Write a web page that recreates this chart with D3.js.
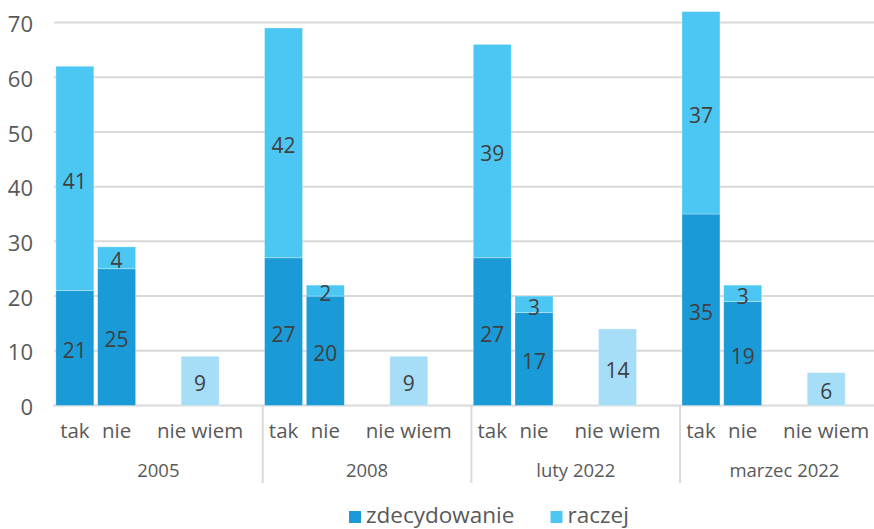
<!DOCTYPE html>
<html>

<head>
  <meta charset="utf8">
  <script src="https://d3js.org/d3.v7.min.js"></script>
  <style>
    body { margin: 0; background: #fff; }
    svg { display: block; font-family: 'Open Sans', sans-serif; }
    .grid line { stroke: #d9d9d9; stroke-width: 2; }
    .ylab { fill: #595959; font-size: 22px; }
    .xlab { fill: #595959; font-size: 20.5px; }
    .glab { fill: #595959; font-size: 18.5px; }
    .val { fill: #404040; font-size: 21px; }
    .leg { fill: #595959; font-size: 22.5px; }
  </style>
</head>

<body>
  <svg id="chart" width="874" height="529"></svg>

  <script>
    var groups = ['2005', '2008', 'luty 2022', 'marzec 2022'];
    // slots inside each group, the empty ones are just gaps
    var slots = ['tak', 'nie', 'gap1', 'nie wiem', 'gap2'];
    var slotLabels = { 'tak': 'tak', 'nie': 'nie', 'nie wiem': 'nie wiem' };

    var takZdecydowanie = [21, 27, 27, 35];
    var takRaczej = [41, 42, 39, 37];
    var nieZdecydowanie = [25, 20, 17, 19];
    var nieRaczej = [4, 2, 3, 3];
    var nieWiem = [9, 9, 14, 6];

    var yTicks = [0, 10, 20, 30, 40, 50, 60, 70];
    var legendItems = ['zdecydowanie', 'raczej'];

    var colors = { zdec: '#1a9ad6', raczej: '#4cc7f3', nieWiem: '#a6def7' };

    var chart = d3.select('#chart');
    var left = 54, groupW = 208.7;

    var x0 = d3.scaleBand()
      .domain(groups)
      .range([left, left + groupW * groups.length]);

    var x1 = d3.scaleBand()
      .domain(slots)
      .range([0, x0.bandwidth()])
      .paddingInner(0.09)
      .paddingOuter(0.045);

    var y = d3.scaleLinear()
      .domain([0, 70])
      .range([405.5, 22.5]);

    // grid
    chart.append('g')
      .attr('class', 'grid')
      .selectAll('line')
      .data(yTicks)
      .join('line')
      .attr('x1', (d) => d === 0 ? left - 1 : left)
      .attr('x2', 874)
      .attr('y1', (d) => y(d))
      .attr('y2', (d) => y(d));

    chart.append('g')
      .selectAll('text')
      .data(yTicks)
      .join('text')
      .attr('class', 'ylab')
      .attr('x', 33)
      .attr('y', (d) => y(d) + 2)
      .attr('dy', '0.35em')
      .attr('text-anchor', 'end')
      .text((d) => d);

    // build segments
    var segs = [];
    groups.forEach(function (g, i) {
      segs.push({ g: g, s: 'tak', y0: 0, y1: takZdecydowanie[i], c: colors.zdec });
      segs.push({ g: g, s: 'tak', y0: takZdecydowanie[i], y1: takZdecydowanie[i] + takRaczej[i], c: colors.raczej });
      segs.push({ g: g, s: 'nie', y0: 0, y1: nieZdecydowanie[i], c: colors.zdec });
      segs.push({ g: g, s: 'nie', y0: nieZdecydowanie[i], y1: nieZdecydowanie[i] + nieRaczej[i], c: colors.raczej });
      segs.push({ g: g, s: 'nie wiem', y0: 0, y1: nieWiem[i], c: colors.nieWiem });
    });

    chart.append('g')
      .selectAll('rect')
      .data(segs)
      .join('rect')
      .attr('x', (d) => x0(d.g) + x1(d.s))
      .attr('width', x1.bandwidth())
      .attr('y', (d) => y(d.y1))
      .attr('height', (d) => y(d.y0) - y(d.y1))
      .attr('fill', (d) => d.c)
      .attr('stroke', '#fff')
      .attr('stroke-opacity', 0.4)
      .attr('stroke-width', 0.75);

    chart.append('g')
      .selectAll('text')
      .data(segs)
      .join('text')
      .attr('class', 'val')
      .attr('x', (d) => x0(d.g) + x1(d.s) + x1.bandwidth() / 2)
      .attr('y', (d) => y((d.y0 + d.y1) / 2) + 3)
      .attr('dy', '0.35em')
      .attr('text-anchor', 'middle')
      .text((d) => d.y1 - d.y0);

    // category labels
    var ticks = [];
    groups.forEach(function (g) {
      Object.keys(slotLabels).forEach(function (s) { ticks.push({ g: g, s: s }); });
    });

    chart.append('g')
      .selectAll('text')
      .data(ticks)
      .join('text')
      .attr('class', 'xlab')
      .attr('x', (d) => x0(d.g) + x1(d.s) + x1.bandwidth() / 2)
      .attr('y', 438)
      .attr('text-anchor', 'middle')
      .text((d) => slotLabels[d.s]);

    chart.append('g')
      .selectAll('text')
      .data(groups)
      .join('text')
      .attr('class', 'glab')
      .attr('x', (d) => x0(d) + x0.bandwidth() / 2)
      .attr('y', 477)
      .attr('text-anchor', 'middle')
      .text((d) => d);

    // separators between groups
    chart.append('g')
      .selectAll('line')
      .data(groups.slice(1))
      .join('line')
      .attr('x1', (d) => x0(d))
      .attr('x2', (d) => x0(d))
      .attr('y1', 406)
      .attr('y2', 483)
      .attr('stroke', '#d9d9d9')
      .attr('stroke-width', 2);

    // legend
    var legX = [349, 550.5];
    var leg = chart.append('g')
      .selectAll('g')
      .data(legendItems)
      .join('g')
      .attr('transform', (d, i) => 'translate(' + legX[i] + ', 511)');

    leg.append('rect')
      .attr('width', 12)
      .attr('height', 12)
      .attr('fill', (d, i) => i === 0 ? colors.zdec : colors.raczej);

    leg.append('text')
      .attr('class', 'leg')
      .attr('x', 17)
      .attr('y', 12)
      .text((d) => d);
  </script>
</body>

</html>
